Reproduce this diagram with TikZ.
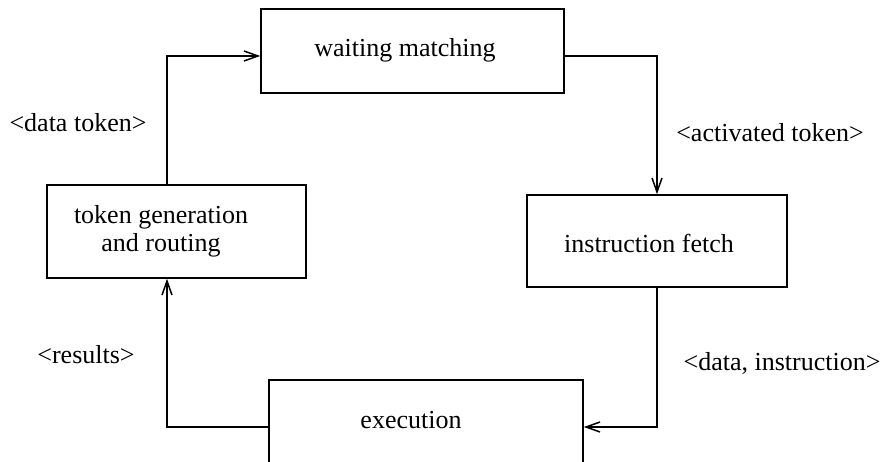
\documentclass[tikz,border=0pt]{standalone}
\usepackage{fontspec}
\setmainfont{Liberation Serif}
\usetikzlibrary{arrows.meta}
\begin{document}
\begin{tikzpicture}[x=1pt,y=-1pt,
  box/.style={draw,line width=1.6pt,rectangle,inner sep=0pt},
  txt/.style={font=\fontsize{26}{28}\selectfont,inner sep=0pt,align=center},
  conn/.style={line width=1.5pt,-{Straight Barb[length=14pt,width=10pt,line width=1.5pt]}}]
\clip (0,0) rectangle (880,462);
\fill[white] (0,0) rectangle (880,462);
% boxes
\node[box,minimum width=303pt,minimum height=84pt] (wm) at (412.5,51) {};
\node[box,minimum width=259pt,minimum height=93pt] (tg) at (176.5,231.5) {};
\node[box,minimum width=260pt,minimum height=92pt] (if) at (657,241) {};
\node[box,minimum width=314pt,minimum height=94pt] (ex) at (426,427) {};
% box texts
\node[txt] (wmt) at (405,50) {waiting matching};
\node[txt] (tgt) at (161,231) {token generation\\and routing};
\node[txt] (ift) at (649,243) {instruction fetch};
\node[txt] (ext) at (411,420) {execution};
% connector labels
\node[txt] (l1) at (78,123) {\textless data token\textgreater};
\node[txt] (l2) at (770,133) {\textless activated token\textgreater};
\node[txt] (l3) at (86,355) {\textless results\textgreater};
\node[txt] (l4) at (782,363) {\textless data, instruction\textgreater};
% connectors
\draw[conn] ([xshift=-9.5pt]tg.north) |- ([yshift=-5pt]wm.west);
\draw[conn] ([yshift=-5pt]wm.east) -| (if.north);
\draw[conn] (if.south) |- (ex.east);
\draw[conn] (ex.west) -| ([xshift=-9.5pt]tg.south);
\end{tikzpicture}
\end{document}
